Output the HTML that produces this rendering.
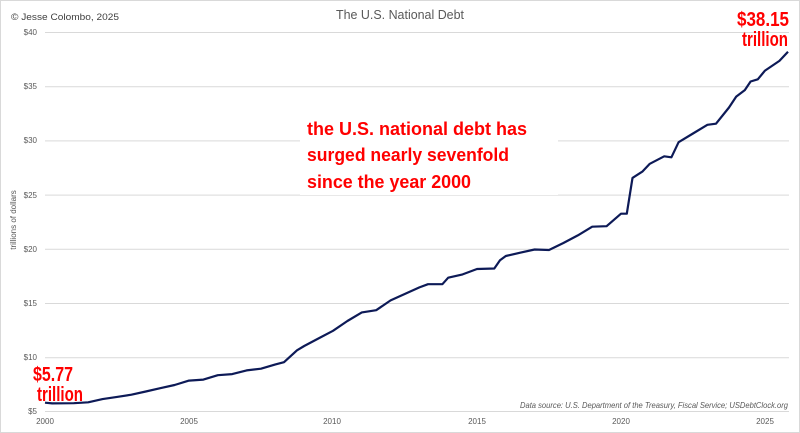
<!DOCTYPE html>
<html><head><meta charset="utf-8"><style>
body{margin:0;background:#fff}
svg{display:block}
text{font-family:"Liberation Sans",sans-serif}
</style></head><body>
<svg width="800" height="433" viewBox="0 0 800 433" xmlns="http://www.w3.org/2000/svg">
<rect x="0.5" y="0.5" width="799" height="432" fill="#fff" stroke="#d9d9d9"/>
<text x="11" y="20" font-size="9" fill="#404040" textLength="108" lengthAdjust="spacingAndGlyphs">© Jesse Colombo, 2025</text>
<text x="400" y="19" font-size="12.5" fill="#595959" text-anchor="middle" textLength="128" lengthAdjust="spacingAndGlyphs">The U.S. National Debt</text>
<g stroke="#d9d9d9" stroke-width="1">
<line x1="45" x2="789" y1="32.5" y2="32.5"/>
<line x1="45" x2="789" y1="86.7" y2="86.7"/>
<line x1="45" x2="789" y1="140.9" y2="140.9"/>
<line x1="45" x2="789" y1="195.1" y2="195.1"/>
<line x1="45" x2="789" y1="249.3" y2="249.3"/>
<line x1="45" x2="789" y1="303.5" y2="303.5"/>
<line x1="45" x2="789" y1="357.7" y2="357.7"/>
<line x1="45" x2="789" y1="411.5" y2="411.5"/>
</g>
<g font-size="8" fill="#595959" text-anchor="end">
<text x="37" y="35">$40</text><text x="37" y="89">$35</text><text x="37" y="143">$30</text>
<text x="37" y="198">$25</text><text x="37" y="252">$20</text><text x="37" y="306">$15</text>
<text x="37" y="360">$10</text><text x="37" y="414">$5</text>
</g>
<g font-size="8" fill="#595959" text-anchor="middle">
<text x="45" y="424">2000</text><text x="189" y="424">2005</text><text x="332" y="424">2010</text>
<text x="477" y="424">2015</text><text x="621" y="424">2020</text><text x="765" y="424">2025</text>
</g>
<text transform="translate(16,220) rotate(-90)" font-size="8" fill="#595959" text-anchor="middle">trillions of dollars</text>
<text x="788" y="408" font-size="8.5" font-style="italic" fill="#595959" text-anchor="end" textLength="268" lengthAdjust="spacingAndGlyphs">Data source: U.S. Department of the Treasury, Fiscal Service; USDebtClock.org</text>
<rect x="300" y="105" width="258" height="90" fill="#fff"/>
<g font-size="18" font-weight="bold" fill="#ff0000">
<text x="307" y="135" textLength="220" lengthAdjust="spacingAndGlyphs">the U.S. national debt has</text>
<text x="307" y="161" textLength="202" lengthAdjust="spacingAndGlyphs">surged nearly sevenfold</text>
<text x="307" y="188" textLength="164" lengthAdjust="spacingAndGlyphs">since the year 2000</text>
</g>
<g font-size="20" font-weight="bold" fill="#ff0000">
<text x="33" y="381" textLength="40" lengthAdjust="spacingAndGlyphs">$5.77</text>
<text x="37" y="401" textLength="46" lengthAdjust="spacingAndGlyphs">trillion</text>
<text x="737" y="26" textLength="52" lengthAdjust="spacingAndGlyphs">$38.15</text>
<text x="742" y="46" textLength="46" lengthAdjust="spacingAndGlyphs">trillion</text>
</g>
<polyline id="ln" fill="none" stroke="#0d1a57" stroke-width="2.2" stroke-linejoin="round" points=""/>
<script>
var d=[[2000,5.77],[2000.25,5.7],[2001,5.72],[2001.5,5.8],[2002,6.1],[2002.5,6.3],[2003,6.5],[2003.5,6.8],[2004,7.1],[2004.5,7.4],[2005,7.8],[2005.5,7.9],[2006,8.3],[2006.5,8.4],[2007,8.75],[2007.5,8.9],[2008,9.3],[2008.3,9.5],[2008.75,10.6],[2009,11.0],[2009.5,11.7],[2010,12.4],[2010.5,13.3],[2011,14.1],[2011.5,14.3],[2012,15.2],[2012.5,15.8],[2013,16.4],[2013.3,16.7],[2013.8,16.7],[2014,17.3],[2014.5,17.6],[2015,18.1],[2015.6,18.15],[2015.8,18.9],[2016,19.3],[2016.5,19.6],[2017,19.9],[2017.5,19.85],[2018,20.5],[2018.5,21.2],[2019,22.0],[2019.5,22.05],[2020,23.2],[2020.2,23.2],[2020.4,26.5],[2020.75,27.1],[2021,27.8],[2021.5,28.5],[2021.75,28.4],[2022,29.8],[2022.5,30.6],[2023,31.4],[2023.3,31.5],[2023.75,33.0],[2024,34.0],[2024.3,34.6],[2024.5,35.4],[2024.75,35.6],[2025,36.4],[2025.5,37.3],[2025.8,38.15]];
document.getElementById('ln').setAttribute('points',d.map(function(p){return (45+(p[0]-2000)*28.8).toFixed(1)+','+(411-(p[1]-5)*10.84).toFixed(1)}).join(' '));
</script>
</svg>
</body></html>
